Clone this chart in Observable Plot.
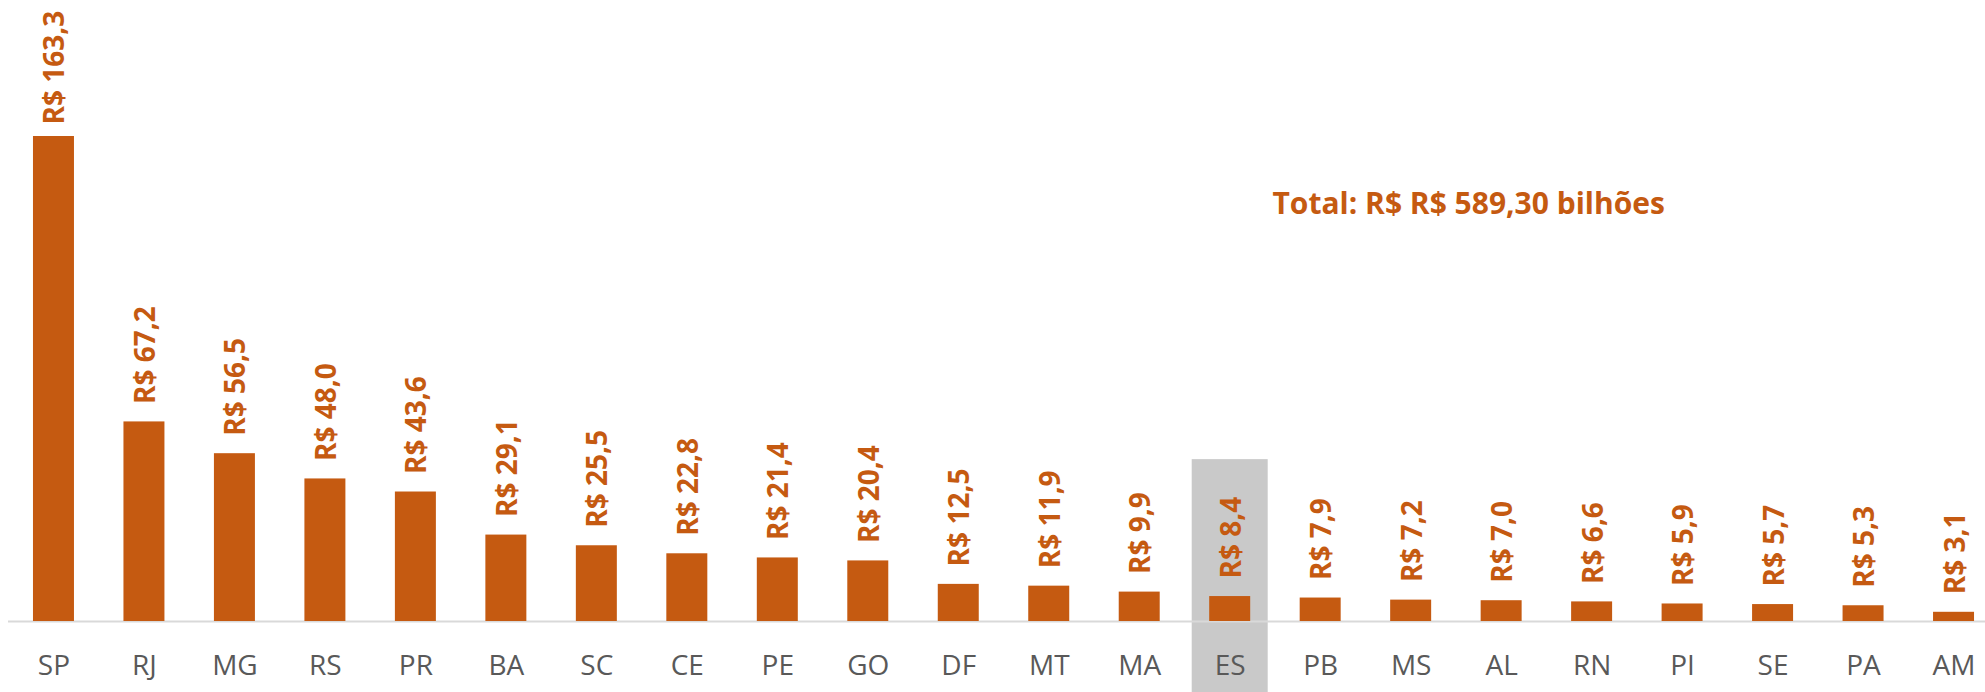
<!DOCTYPE html>
<html>
<head>
<meta charset="utf-8">
<script src="https://cdn.jsdelivr.net/npm/d3@7"></script>
<script src="https://cdn.jsdelivr.net/npm/@observablehq/plot@0.6"></script>
<style>
  html, body { margin: 0; padding: 0; background: #fff; overflow: hidden; width: 1985px; height: 692px; }
  #chart svg { display: block; }
</style>
</head>
<body>
<div id="chart"></div>
<script>
const states = ["SP","RJ","MG","RS","PR","BA","SC","CE","PE","GO","DF","MT","MA","ES","PB","MS","AL","RN","PI","SE","PA","AM"];
const values = [163.3,67.2,56.5,48.0,43.6,29.1,25.5,22.8,21.4,20.4,12.5,11.9,9.9,8.4,7.9,7.2,7.0,6.6,5.9,5.7,5.3,3.1];
const highlighted = ["ES"];
const totalText = "Total: R$ R$ 589,30 bilhões";

const data = states.map((s, i) => ({state: s, value: values[i]}));
const fmt = v => "R$ " + v.toFixed(1).replace(".", ",");
const maxV = d3.max(values);
const orange = "#c55a11";
const font = "'Open Sans', 'Noto Sans', sans-serif";

const chart = Plot.plot({
  width: 1985,
  height: 692,
  marginLeft: 8,
  marginRight: 0,
  marginTop: 136,
  marginBottom: 71,
  style: {background: "#fff", fontFamily: font, overflow: "visible"},
  x: {domain: states, range: [8, 1999], paddingInner: 0.547, paddingOuter: 0.276, round: false, label: null},
  y: {domain: [0, maxV], axis: null},
  marks: [
    Plot.barY(highlighted, {x: d => d, y1: -30, y2: 54.5, fill: "#c9c9c9", insetLeft: -17.5, insetRight: -17.5}),
    Plot.ruleY([0], {stroke: "#d9d9d9", strokeWidth: 2}),
    Plot.barY(data, {x: "state", y: "value", fill: orange}),
    Plot.text(data.filter(d => d.value !== maxV), {x: "state", y: "value", text: d => fmt(d.value), rotate: -90, textAnchor: "start", dy: -18, dx: 1.5, fill: orange, fontSize: 28, fontWeight: "bold"}),
    Plot.text(data.filter(d => d.value === maxV), {x: "state", y: "value", text: d => fmt(d.value), rotate: -90, textAnchor: "start", dy: -12, dx: 1.5, fill: orange, fontSize: 28, fontWeight: "bold"}),
    Plot.text([totalText], {frameAnchor: "top-left", text: d => d, textAnchor: "start", lineAnchor: "middle", dx: 1264, dy: 68, fill: orange, fontSize: 30, fontWeight: "bold"}),
    Plot.axisX({tickSize: 0, tickPadding: 34, fontSize: 28, fill: "#595959", label: null})
  ]
});
document.getElementById("chart").appendChild(chart);
</script>
</body>
</html>
